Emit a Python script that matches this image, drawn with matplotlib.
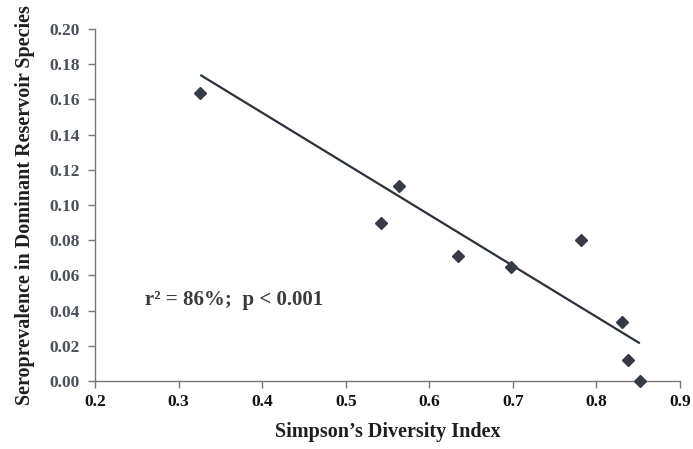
import matplotlib.pyplot as plt

# values
diversity = [0.326, 0.542, 0.564, 0.634, 0.698, 0.781, 0.831, 0.838, 0.852]
seroprevalence = [0.1635, 0.090, 0.1108, 0.071, 0.065, 0.080, 0.0333, 0.0119, 0.0]

# regression line end points
fit_x = [0.326, 0.852]
fit_y = [0.1739, 0.0214]

x_ticks = [0.2, 0.3, 0.4, 0.5, 0.6, 0.7, 0.8, 0.9]
y_ticks = [0.00, 0.02, 0.04, 0.06, 0.08, 0.10, 0.12, 0.14, 0.16, 0.18, 0.20]

TEXT_COLOR = "#2e2e2e"
YTICK_COLOR = "#4a4f58"
SPINE_COLOR = "#777777"
MARK_COLOR = "#343b47"


def main():
    plt.rcParams["font.family"] = ["Liberation Serif", "DejaVu Serif"]

    fig = plt.figure(figsize=(6.93, 4.49), dpi=100)
    ax = fig.add_axes([0.1371, 0.1514, 0.8441, 0.784])

    ax.plot(fit_x, fit_y, color="#2b303a", linewidth=1.6, solid_capstyle="butt")
    ax.plot(diversity, seroprevalence, linestyle="none", marker="D",
            markersize=6.5, color=MARK_COLOR, clip_on=False, zorder=3)

    ax.set_xlim(0.2, 0.9)
    ax.set_ylim(0.0, 0.20)
    ax.set_xticks(x_ticks)
    ax.set_yticks(y_ticks)
    ax.set_xticklabels([f"{v:.1f}" for v in x_ticks])
    ax.set_yticklabels([f"{v:.2f}" for v in y_ticks])

    for side in ["top", "right"]:
        ax.spines[side].set_visible(False)
    for side in ["left", "bottom"]:
        ax.spines[side].set_color(SPINE_COLOR)
        ax.spines[side].set_linewidth(1.0)

    ax.tick_params(axis="both", direction="out", length=5, width=1.0,
                   color=SPINE_COLOR)
    ax.tick_params(axis="y", pad=6, labelcolor=YTICK_COLOR)
    ax.tick_params(axis="x", pad=4, labelcolor="#111111")
    for label in ax.get_xticklabels() + ax.get_yticklabels():
        label.set_fontsize(12.5)
        label.set_fontweight("bold")

    ax.set_xlabel("Simpson\u2019s Diversity Index", fontsize=14.5,
                  fontweight="bold", color="#1e1e1e", labelpad=9)
    ax.set_ylabel("Seroprevalence in Dominant Reservoir Species", fontsize=14.5,
                  fontweight="bold", color="#1e1e1e", labelpad=10)

    ax.text(0.26, 0.046, "r\u00b2 = 86%;  p < 0.001", fontsize=15,
            fontweight="bold", color="#3a3a3a", va="center", ha="left")

    fig.savefig("out.png", dpi=100)


if __name__ == "__main__":
    main()
